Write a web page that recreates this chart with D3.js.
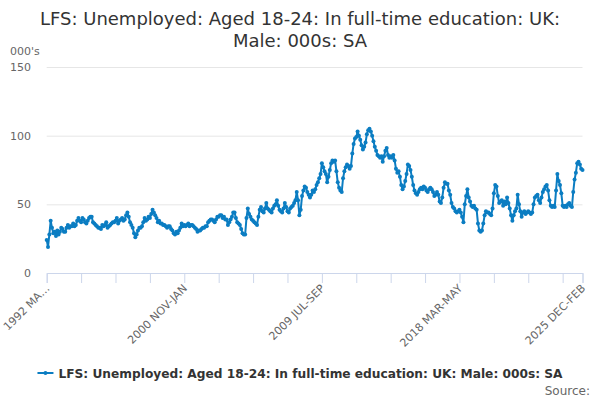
<!DOCTYPE html>
<html>
<head>
<meta charset="utf-8">
<script src="https://cdn.jsdelivr.net/npm/d3@7"></script>
<style>
  body { margin: 0; background: #fff; }
  svg { font-family: "DejaVu Sans", sans-serif; }
</style>
</head>
<body>
<div id="chart"></div>
<script>
// Chart text
var titleLines = ["LFS: Unemployed: Aged 18-24: In full-time education: UK:", "Male: 000s: SA"];
var seriesName = "LFS: Unemployed: Aged 18-24: In full-time education: UK: Male: 000s: SA";
var yUnit = "000's";

// First period of the series (rolling quarters, 1992 MAR-MAY onwards)
var startYear = 1992;
var quarterNames = ["JAN-MAR", "FEB-APR", "MAR-MAY", "APR-JUN", "MAY-JUL", "JUN-AUG",
  "JUL-SEP", "AUG-OCT", "SEP-NOV", "OCT-DEC", "NOV-JAN", "DEC-FEB"];

// Values in thousands
var values = [
  24, 19, 28, 38, 33, 29, 30, 27, 31, 28,
  30, 33, 32, 30, 30, 33, 35, 33, 34, 34,
  36, 34, 35, 38, 40, 38, 37, 40, 39, 37,
  36, 38, 40, 41, 41, 37, 36, 35, 34, 33,
  33, 32, 35, 34, 35, 37, 33, 34, 35, 36,
  37, 37, 38, 40, 36, 38, 39, 40, 38, 39,
  42, 44, 41, 37, 35, 33, 29, 26, 28, 31,
  33, 33, 34, 37, 40, 38, 39, 41, 40, 43,
  46, 44, 42, 40, 37, 38, 36, 36, 35, 35,
  34, 33, 34, 34, 32, 31, 29, 28, 30, 29,
  31, 33, 36, 34, 35, 34, 35, 36, 34, 35,
  35, 34, 33, 32, 30, 31, 31, 32, 33, 33,
  34, 34, 37, 38, 39, 39, 38, 37, 39, 41,
  41, 42, 42, 40, 41, 39, 39, 35, 37, 39,
  41, 44, 44, 40, 37, 36, 35, 32, 29, 28,
  28, 40, 47, 43, 41, 39, 38, 37, 36, 35,
  41, 46, 48, 45, 44, 47, 51, 47, 46, 45,
  44, 47, 49, 50, 53, 49, 46, 45, 44, 47,
  51, 48, 45, 44, 47, 48, 49, 51, 53, 59,
  53, 42, 46, 56, 60, 63, 62, 59, 57, 55,
  57, 60, 59, 61, 64, 66, 69, 72, 80, 77,
  74, 72, 66, 70, 75, 80, 82, 81, 82, 74,
  66, 62, 60, 59, 69, 74, 77, 79, 78, 76,
  78, 87, 94, 98, 99, 103, 100, 97, 93, 90,
  92, 95, 101, 104, 105, 103, 100, 96, 92, 89,
  86, 85, 84, 85, 81, 85, 89, 91, 86, 84,
  85, 84, 86, 82, 76, 73, 74, 70, 64, 61,
  63, 67, 72, 79, 78, 75, 70, 64, 60, 58,
  57, 59, 61, 62, 61, 63, 62, 60, 59, 61,
  62, 61, 59, 56, 57, 59, 57, 52, 51, 55,
  62, 66, 65, 65, 60, 57, 51, 48, 47, 45,
  44, 45, 46, 44, 41, 37, 50, 56, 61, 55,
  52, 49, 48, 49, 47, 46, 36, 31, 30, 31,
  36, 42, 45, 44, 44, 43, 42, 47, 58, 64,
  63, 56, 51, 52, 53, 49, 52, 50, 55, 51,
  47, 42, 38, 42, 45, 47, 57, 50, 45, 41,
  44, 45, 43, 44, 45, 44, 43, 44, 50, 55,
  56, 57, 53, 51, 55, 59, 61, 63, 64, 60,
  53, 49, 48, 49, 48, 60, 72, 67, 64, 58,
  49, 48, 49, 48, 50, 51, 49, 48, 59, 68,
  73, 80, 81, 79, 76, 75
];

// Axis ticks
var yTicks = [0, 50, 100, 150];
var tickStep = 26;
var labelledTicks = ["1992 MAR-MAY", "2000 NOV-JAN", "2009 JUL-SEP", "2018 MAR-MAY", "2025 DEC-FEB"];

// Period labels for every point
var periods = values.map(function(v, i) {
  var m = i + 2;
  return (startYear + Math.floor(m / 12)) + " " + quarterNames[m % 12];
});

var width = 600, height = 400;
var plot = {left: 46.7, right: 582.5, top: 67, bottom: 273};

var svg = d3.select("#chart")
  .append("svg")
  .attr("width", width)
  .attr("height", height);

// Title
svg.append("g").selectAll("text")
  .data(titleLines)
  .enter().append("text")
  .attr("x", width / 2)
  .attr("y", function(d, i) { return 25 + i * 21.5; })
  .attr("text-anchor", "middle")
  .style("font-size", "18px")
  .style("fill", "#333333")
  .text(function(d) { return d; });

// Scales
var x = d3.scaleLinear()
  .domain([0, values.length - 1])
  .range([plot.left, plot.right]);

var y = d3.scaleLinear()
  .domain([0, 150])
  .range([plot.bottom, plot.top]);

// Grid lines and y labels
svg.append("g")
  .selectAll("line")
  .data(yTicks.filter(function(d) { return d > 0; }))
  .enter().append("line")
  .attr("x1", plot.left)
  .attr("x2", plot.right)
  .attr("y1", function(d) { return y(d) + 0.5; })
  .attr("y2", function(d) { return y(d) + 0.5; })
  .style("stroke", "#e6e6e6");

svg.append("g")
  .selectAll("text")
  .data(yTicks)
  .enter().append("text")
  .attr("x", 31)
  .attr("y", function(d) { return y(d) + 4; })
  .attr("text-anchor", "end")
  .style("font-size", "11px")
  .style("fill", "#666666")
  .text(function(d) { return d; });

svg.append("text")
  .attr("x", 10)
  .attr("y", 55)
  .style("font-size", "11px")
  .style("fill", "#666666")
  .text(yUnit);

// X axis
var tickIdx = d3.range(0, values.length, tickStep);
if (tickIdx[tickIdx.length - 1] !== values.length - 1) tickIdx.push(values.length - 1);

var xAxis = d3.axisBottom(x)
  .tickValues(tickIdx)
  .tickSize(10)
  .tickFormat(function(i) {
    var p = periods[i];
    if (labelledTicks.indexOf(p) < 0) return "";
    return i === 0 ? "1992 MA\u2026" : p;
  });

var gx = svg.append("g")
  .attr("transform", "translate(0," + plot.bottom + ")")
  .call(xAxis);

gx.select(".domain").style("stroke", "#ccd6eb");
gx.selectAll(".tick line").style("stroke", "#ccd6eb");
gx.selectAll(".tick text")
  .style("font-size", "11px")
  .style("fill", "#666666")
  .style("font-family", "DejaVu Sans, sans-serif")
  .attr("text-anchor", "end")
  .attr("dy", null)
  .attr("y", 0)
  .attr("transform", "translate(3,16) rotate(-45)");

// Series line and markers
var blue = "#0b7dc2";
var line = d3.line()
  .x(function(d, i) { return x(i); })
  .y(function(d) { return y(d); });

svg.append("path")
  .datum(values)
  .attr("d", line)
  .style("fill", "none")
  .style("stroke", blue)
  .style("stroke-width", 2)
  .style("stroke-linejoin", "round");

svg.append("g")
  .selectAll("circle")
  .data(values)
  .enter().append("circle")
  .attr("cx", function(d, i) { return x(i); })
  .attr("cy", function(d) { return y(d); })
  .attr("r", 2)
  .style("fill", blue);

// Legend
var legend = svg.append("g").attr("transform", "translate(0,373)");
var legendText = legend.append("text")
  .attr("x", 57)
  .attr("y", 5)
  .style("font-size", "12.2px")
  .style("font-weight", "bold")
  .style("fill", "#333333")
  .text(seriesName);

var lw = legendText.node().getComputedTextLength();
var lx = (width - (lw + 21)) / 2;
legendText.attr("x", lx + 21);
legend.append("line")
  .attr("x1", lx).attr("x2", lx + 16)
  .attr("y1", 0).attr("y2", 0)
  .style("stroke", blue)
  .style("stroke-width", 2);
legend.append("circle")
  .attr("cx", lx + 8).attr("cy", 0).attr("r", 2)
  .style("fill", blue);

// Credits
svg.append("text")
  .attr("x", 590)
  .attr("y", 395)
  .attr("text-anchor", "end")
  .style("font-size", "12px")
  .style("fill", "#666666")
  .text("Source:");
</script>
</body>
</html>
